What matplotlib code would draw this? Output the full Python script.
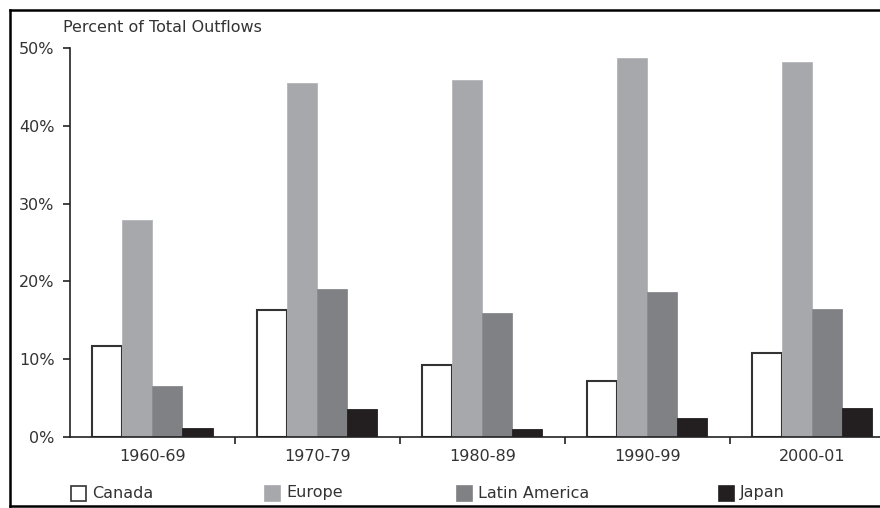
import numpy as np
import matplotlib.pyplot as plt
from matplotlib.patches import Rectangle
from matplotlib.lines import Line2D

plt.rcParams['font.family'] = ['DejaVu Sans']

periods = ["1960-69", "1970-79", "1980-89", "1990-99", "2000-01"]
series = ["Canada", "Europe", "Latin America", "Japan"]
canada = [11.7, 16.3, 9.3, 7.2, 10.8]
europe = [27.9, 45.5, 45.9, 48.7, 48.2]
latin_america = [6.5, 19.0, 16.0, 18.7, 16.4]
japan = [1.2, 3.6, 1.0, 2.4, 3.7]
yticks = [0, 10, 20, 30, 40, 50]

values = [canada, europe, latin_america, japan]
faces = ['white', '#a7a8ab', '#808184', '#231f20']
edges = ['#333333', '#b5b6b9', '#8a8b8e', '#231f20']
lws = [1.5, 0.6, 0.6, 0.6]
text_c = '#333333'
fs = 11.5

fig = plt.figure(figsize=(8.8, 5.08), dpi=100)
ax = fig.add_axes([0.0795, 0.1398, 0.9205, 0.7657])

x = np.arange(len(periods))
w = 0.182
for i, (vals, fc, ec, lw) in enumerate(zip(values, faces, edges, lws)):
    ax.bar(x + (i - 1.5) * w, vals, width=w, color=fc, edgecolor=ec,
           linewidth=lw, zorder=2)

ax.set_xlim(-0.5, 4.41)
ax.set_ylim(0, 50)
ax.set_yticks(yticks)
ax.set_yticklabels([f"{v}%" for v in yticks], fontsize=fs, color=text_c)
ax.set_xticks(x)
ax.set_xticklabels(periods, fontsize=fs, color=text_c)
ax.set_xticks(x[:-1] + 0.5, minor=True)
ax.tick_params(axis='x', which='major', length=0, pad=9)
ax.tick_params(axis='x', which='minor', length=5, width=1.2, color='#222222', direction='out')
ax.tick_params(axis='y', length=5, width=1.2, color='#222222', direction='out', pad=6)
for s in ['top', 'right']:
    ax.spines[s].set_visible(False)
for s in ['left', 'bottom']:
    ax.spines[s].set_linewidth(1.2)
    ax.spines[s].set_color('#222222')

fig.text(63 / 880, 1 - 27 / 508, "Percent of Total Outflows", fontsize=fs,
         color=text_c, ha='left', va='center')

# legend drawn along the bottom
leg_x = [71, 265, 457, 719]
leg_y = 493
sq = 15
for lx, name, fc, ec in zip(leg_x, series, faces, edges):
    fig.patches.append(Rectangle((lx / 880, (508 - leg_y - sq / 2) / 508),
                                 sq / 880, sq / 508, transform=fig.transFigure,
                                 facecolor=fc, edgecolor='#333333' if fc == 'white' else fc,
                                 linewidth=1.2))
    fig.text((lx + sq + 6) / 880, (508 - leg_y) / 508, name, fontsize=fs,
             color=text_c, ha='left', va='center')

# outer frame (left, top, bottom)
fx0, fy0, fy1 = 10 / 880, 1 - 506 / 508, 1 - 10 / 508
for xs, ys in [([fx0, fx0], [fy0, fy1]), ([fx0, 1], [fy1, fy1]), ([fx0, 1], [fy0, fy0])]:
    fig.lines.append(Line2D(xs, ys, transform=fig.transFigure, color='black', linewidth=1.8))

fig.savefig("out.png", dpi=100)
